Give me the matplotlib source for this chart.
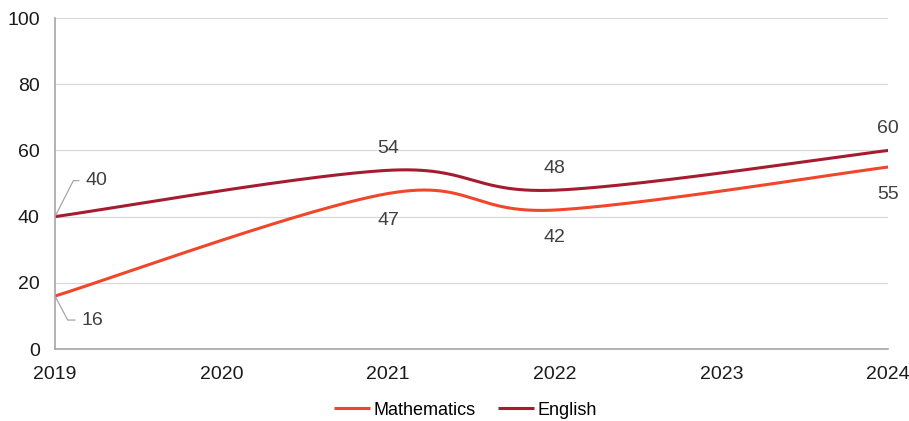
import numpy as np
import matplotlib
matplotlib.use("Agg")
import matplotlib.pyplot as plt

plt.rcParams['font.family'] = ['Liberation Sans', 'DejaVu Sans']

# data
years = [2019, 2021, 2022, 2024]
maths = [16, 47, 42, 55]
english = [40, 54, 48, 60]
year_ticks = [2019, 2020, 2021, 2022, 2023, 2024]
y_ticks = [0, 20, 40, 60, 80, 100]

maths_col = "#F0462A"
english_col = "#A51C30"
label_col = "#404040"

# px per unit, used so the smoothing works in screen space like the original tool
sx, sy = 166.6, 3.31


def smooth(xs, ys, n=60):
    # bezier smoothing through the points, control points from neighbours (tension 1/6)
    P = np.column_stack([np.array(xs, float) * sx, np.array(ys, float) * sy])
    out = []
    for i in range(len(P) - 1):
        p0 = P[i - 1] if i > 0 else P[i]
        p1 = P[i]
        p2 = P[i + 1]
        p3 = P[i + 2] if i + 2 < len(P) else P[i + 1]
        c1 = p1 + (p2 - p0) / 6.0
        c2 = p2 - (p3 - p1) / 6.0
        t = np.linspace(0, 1, n)[:, None]
        seg = (1 - t) ** 3 * p1 + 3 * (1 - t) ** 2 * t * c1 + 3 * (1 - t) * t ** 2 * c2 + t ** 3 * p2
        out.append(seg if i == 0 else seg[1:])
    out = np.vstack(out)
    return out[:, 0] / sx, out[:, 1] / sy


fig = plt.figure(figsize=(9.09, 4.21), dpi=100)
ax = fig.add_axes([0.0605, 0.171, 0.9165, 0.786])

mx, my = smooth(years, maths)
ex, ey = smooth(years, english)
ax.plot(mx, my, color=maths_col, lw=2.2, label="Mathematics", solid_capstyle='butt')
ax.plot(ex, ey, color=english_col, lw=2.2, label="English", solid_capstyle='butt')

ax.set_xlim(year_ticks[0], year_ticks[-1])
ax.set_ylim(y_ticks[0], y_ticks[-1])
ax.set_xticks(year_ticks)
ax.set_yticks(y_ticks)
ax.grid(True, axis='y', color="#d9d9d9", lw=0.9)
ax.set_axisbelow(True)
for s in ['top', 'right']:
    ax.spines[s].set_visible(False)
for s in ['left', 'bottom']:
    ax.spines[s].set_color("#a6a6a6")
    ax.spines[s].set_linewidth(1.2)
ax.tick_params(axis='both', length=0, labelsize=14, colors='#1a1a1a')
ax.tick_params(axis='y', pad=11)
ax.tick_params(axis='x', pad=12)

# data labels
for i, (x, e, m) in enumerate(zip(years, english, maths)):
    if i == 0:
        ax.annotate(str(e), xy=(x, e), xytext=(31, 36), textcoords='offset pixels',
                    ha='left', va='center', fontsize=14, color=label_col,
                    arrowprops=dict(arrowstyle='-', color='#a6a6a6', lw=0.9, shrinkA=3, shrinkB=0,
                                    connectionstyle='angle,angleA=0,angleB=63,rad=0'))
        ax.annotate(str(m), xy=(x, m), xytext=(27, -24), textcoords='offset pixels',
                    ha='left', va='center', fontsize=14, color=label_col,
                    arrowprops=dict(arrowstyle='-', color='#a6a6a6', lw=0.9, shrinkA=3, shrinkB=0,
                                    connectionstyle='angle,angleA=0,angleB=-62,rad=0'))
    else:
        ax.annotate(str(e), xy=(x, e), xytext=(0, 13), textcoords='offset pixels',
                    ha='center', va='bottom', fontsize=14, color=label_col)
        ax.annotate(str(m), xy=(x, m), xytext=(0, -19), textcoords='offset pixels',
                    ha='center', va='top', fontsize=14, color=label_col)

fig.legend(loc='center', bbox_to_anchor=(0.512, 0.026), ncol=2, frameon=False,
           fontsize=13, handlelength=2.0, handletextpad=0.22, columnspacing=1.2)

fig.savefig("out.png", dpi=100)
